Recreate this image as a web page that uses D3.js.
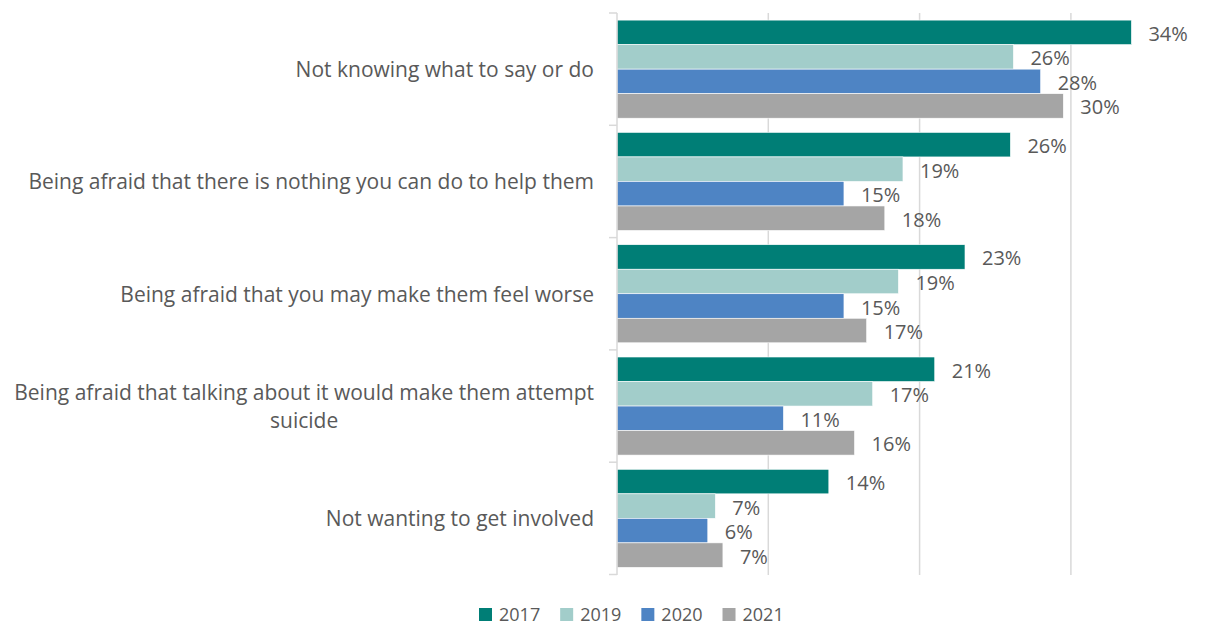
<!DOCTYPE html>
<html>
<head>
<meta charset="utf-8">
<script src="https://cdn.jsdelivr.net/npm/d3@7"></script>
<style>
  html, body { margin: 0; padding: 0; background: #fff; }
  svg { display: block; }
  text { font-family: "Open Sans", sans-serif; fill: #595959; }
</style>
</head>
<body>
<svg id="chart" width="1207" height="626"></svg>
<script>
// ---- data ----
const categories = [
  "Not knowing what to say or do",
  "Being afraid that there is nothing you can do to help them",
  "Being afraid that you may make them feel worse",
  "Being afraid that talking about it would make them attempt suicide",
  "Not wanting to get involved"
];
const years = ["2017", "2019", "2020", "2021"];
const values2017 = [34.0, 26.0, 23.0, 21.0, 14.0];
const values2019 = [26.2, 18.9, 18.6, 16.9, 6.5];
const values2020 = [28.0, 15.0, 15.0, 11.0, 6.0];
const values2021 = [29.5, 17.7, 16.5, 15.7, 7.0];
const xTicks = [0, 10, 20, 30];
const colors = ["#007E76", "#A2CDCA", "#4E84C4", "#A5A5A5"];

const seriesValues = [values2017, values2019, values2020, values2021];

const svg = d3.select("#chart");

const x = d3.scaleLinear().domain([0, 40]).range([617, 1222.2]);
const y = d3.scaleBand().domain(categories).range([13, 574.5]).padding(0);
const yInner = d3.scaleBand().domain(years).range([0, y.bandwidth()]).paddingInner(0).paddingOuter(0.29);

// gridlines
svg.append("g")
  .selectAll("line")
  .data(xTicks.filter(d => d > 0))
  .join("line")
  .attr("x1", d => x(d)).attr("x2", d => x(d))
  .attr("y1", 13).attr("y2", 575)
  .attr("stroke", "#D9D9D9").attr("stroke-width", 1.5);

// bars
const groups = svg.append("g")
  .selectAll("g")
  .data(categories)
  .join("g")
  .attr("transform", d => `translate(0,${y(d)})`);

groups.each(function(cat, ci) {
  const g = d3.select(this);
  const rows = years.map((yr, si) => ({ yr, v: seriesValues[si][ci], c: colors[si] }));
  g.selectAll("rect")
    .data(rows)
    .join("rect")
    .attr("x", x(0))
    .attr("y", d => yInner(d.yr))
    .attr("width", d => x(d.v) - x(0))
    .attr("height", yInner.bandwidth())
    .attr("fill", d => d.c)
    .attr("stroke", "#fff").attr("stroke-width", 0.6);
  g.selectAll("text.val")
    .data(rows)
    .join("text")
    .attr("class", "val")
    .attr("x", d => x(d.v) + 17)
    .attr("y", d => yInner(d.yr) + yInner.bandwidth() / 2 + 1)
    .attr("dominant-baseline", "central")
    .attr("font-size", 20)
    .text(d => Math.round(d.v) + "%");
});

// y axis (left) with ticks at category boundaries
const axisG = svg.append("g");
axisG.append("line")
  .attr("x1", x(0)).attr("x2", x(0))
  .attr("y1", 13).attr("y2", 575)
  .attr("stroke", "#D9D9D9").attr("stroke-width", 1.5);
const boundaries = categories.map(c => y(c)).concat([y(categories[categories.length - 1]) + y.bandwidth()]);
axisG.selectAll("line.tick")
  .data(boundaries)
  .join("line")
  .attr("class", "tick")
  .attr("x1", x(0) - 8).attr("x2", x(0))
  .attr("y1", d => d).attr("y2", d => d)
  .attr("stroke", "#D9D9D9").attr("stroke-width", 1.5);

// category labels (wrap long ones)
const labelRight = 594;
const maxWidth = 592;
const labelSize = 21;
categories.forEach(cat => {
  const cy = y(cat) + y.bandwidth() / 2;
  const t = svg.append("text")
    .attr("font-size", labelSize)
    .attr("text-anchor", "end")
    .attr("x", labelRight)
    .attr("y", cy)
    .attr("dominant-baseline", "central")
    .text(cat);
  if (t.node().getComputedTextLength() > maxWidth) {
    const words = cat.split(" ");
    const lines = [];
    let cur = [];
    const probe = svg.append("text").attr("font-size", labelSize);
    words.forEach(w => {
      const test = cur.concat([w]).join(" ");
      probe.text(test);
      if (probe.node().getComputedTextLength() > maxWidth && cur.length) {
        lines.push(cur.join(" "));
        cur = [w];
      } else cur.push(w);
    });
    lines.push(cur.join(" "));
    const w0 = d3.max(lines, l => { probe.text(l); return probe.node().getComputedTextLength(); });
    probe.remove();
    t.text(null).attr("text-anchor", "middle").attr("x", labelRight - w0 / 2);
    const lh = 28;
    lines.forEach((l, i) => {
      t.append("tspan")
        .attr("x", labelRight - w0 / 2)
        .attr("y", cy + (i - (lines.length - 1) / 2) * lh)
        .attr("dominant-baseline", "central")
        .text(l);
    });
  }
});

// legend
const legend = svg.append("g");
let lx = 479;
years.forEach((yr, i) => {
  legend.append("rect")
    .attr("x", lx).attr("y", 608).attr("width", 13).attr("height", 13)
    .attr("fill", colors[i]);
  const t = legend.append("text")
    .attr("x", lx + 20).attr("y", 614)
    .attr("dominant-baseline", "central")
    .attr("font-size", 18)
    .text(yr);
  lx += 20 + t.node().getComputedTextLength() + 20;
});
</script>
</body>
</html>
